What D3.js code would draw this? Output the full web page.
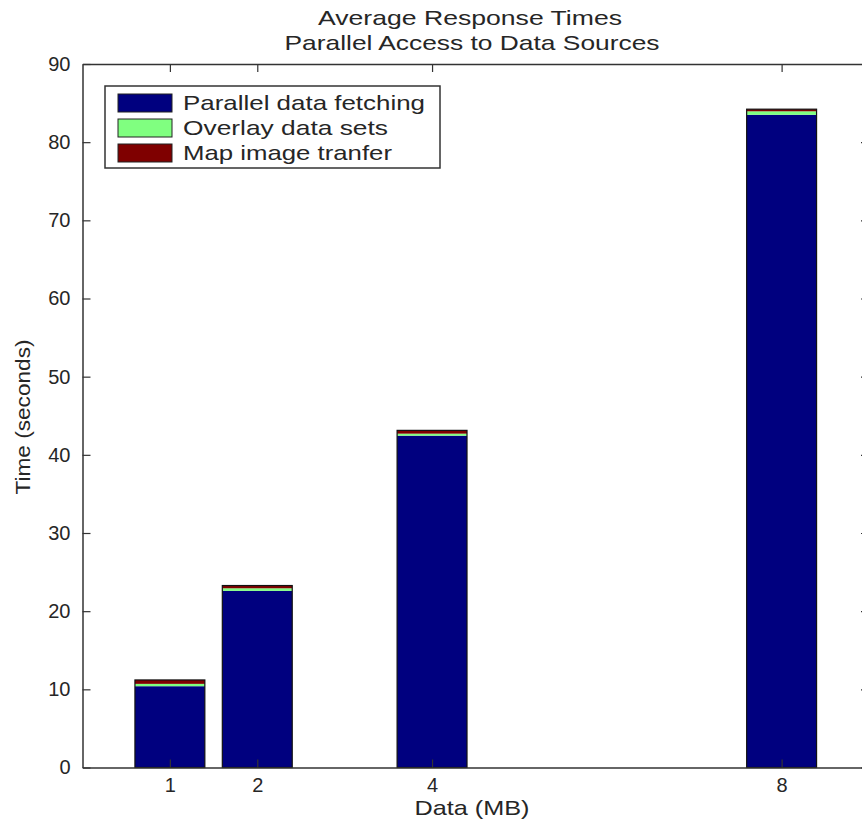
<!DOCTYPE html>
<html>
<head>
<meta charset="utf-8">
<script src="https://cdn.jsdelivr.net/npm/d3@7"></script>
<style>
  body { margin: 0; background: #fff; }
  text { font-family: "Liberation Sans", Arial, sans-serif; fill: #262626; }
</style>
</head>
<body>
<script>
'use strict';

const sizes = [1, 2, 4, 8];
const fetching = [10.4, 22.6, 42.45, 83.5];
const overlay = [0.3, 0.33, 0.26, 0.45];
const transfer = [0.5, 0.35, 0.42, 0.27];
const seriesNames = ['Parallel data fetching', 'Overlay data sets', 'Map image tranfer'];
const seriesColors = ['#00007f', '#80ff80', '#7f0000'];
const yTicks = [0, 10, 20, 30, 40, 50, 60, 70, 80, 90];

const chart = {
    width: 862,
    height: 827,
    margin: { left: 82.5, right: -7, top: 64, bottom: 59.5 },
};
chart.innerW = chart.width - chart.margin.left - chart.margin.right;
chart.innerH = chart.height - chart.margin.top - chart.margin.bottom;

const svg = d3.select('body').append('svg')
    .attr('width', chart.width)
    .attr('height', chart.height);

const g = svg.append('g')
    .attr('transform', `translate(${chart.margin.left},${chart.margin.top})`);

const x = d3.scaleLinear().domain([0, 9]).range([0, chart.innerW]);
const y = d3.scaleLinear().domain([0, 90]).range([chart.innerH, 0]);

const rows = sizes.map((s, i) => ({ size: s, a: fetching[i], b: overlay[i], c: transfer[i] }));
const stacked = d3.stack().keys(['a', 'b', 'c'])(rows);
const barW = x(0.8) - x(0);

// bars
stacked.forEach((layer, k) => {
  g.append('g').selectAll('rect')
    .data(layer)
    .enter()
    .append('rect')
    .attr('x', d => x(d.data.size) - barW / 2)
    .attr('width', barW)
    .attr('y', d => y(d[1]))
    .attr('height', d => y(d[0]) - y(d[1]))
    .attr('fill', seriesColors[k]);
});

// outline of each bar
g.append('g').selectAll('rect')
  .data(rows)
  .enter()
  .append('rect')
  .attr('x', d => x(d.size) - barW / 2)
  .attr('width', barW)
  .attr('y', d => y(d.a + d.b + d.c))
  .attr('height', d => y(0) - y(d.a + d.b + d.c))
  .attr('fill', 'none')
  .attr('stroke', '#111')
  .attr('stroke-width', 1.2);

// axes, matlab style box with inner ticks
const tickLen = 8;
const axisStyle = sel => {
  sel.select('.domain').attr('stroke', '#333').attr('stroke-width', 1.5);
  sel.selectAll('.tick line').attr('stroke', '#333').attr('stroke-width', 1.2);
  sel.selectAll('.tick text').style('font-size', '20px').attr('fill', '#262626');
};

g.append('g')
  .attr('transform', `translate(0,${chart.innerH})`)
  .call(d3.axisBottom(x).tickValues(sizes).tickSizeInner(-tickLen).tickSizeOuter(0).tickPadding(10))
  .call(axisStyle);

g.append('g')
  .call(d3.axisTop(x).tickValues(sizes).tickSizeInner(-tickLen).tickSizeOuter(0).tickFormat(''))
  .call(axisStyle);

g.append('g')
  .call(d3.axisLeft(y).tickValues(yTicks).tickSizeInner(-tickLen).tickSizeOuter(0).tickPadding(12))
  .call(axisStyle);

g.append('g')
  .attr('transform', `translate(${chart.innerW},0)`)
  .call(d3.axisRight(y).tickValues(yTicks).tickSizeInner(-tickLen).tickSizeOuter(0).tickFormat(''))
  .call(axisStyle);

// text helper: the source picture is a bit wider than plain Arial
const label = (px, py, str, len) => svg.append('text')
  .attr('x', px).attr('y', py)
  .attr('text-anchor', 'middle')
  .attr('textLength', len)
  .attr('lengthAdjust', 'spacingAndGlyphs')
  .style('font-size', '21px')
  .text(str);

label(470, 25, 'Average Response Times', 304);
label(472, 50, 'Parallel Access to Data Sources', 375);
label(472, 815, 'Data (MB)', 115);

svg.append('text')
  .attr('transform', 'translate(30,417) rotate(-90)')
  .attr('text-anchor', 'middle')
  .attr('textLength', 155)
  .attr('lengthAdjust', 'spacingAndGlyphs')
  .style('font-size', '21px')
  .text('Time (seconds)');

// legend
const legendLens = [242, 205, 209];
const legend = svg.append('g').attr('transform', 'translate(105,86)');
legend.append('rect')
  .attr('width', 335).attr('height', 82)
  .attr('fill', '#fff')
  .attr('stroke', '#333')
  .attr('stroke-width', 1.5);

const item = legend.selectAll('g.item')
  .data(seriesNames)
  .enter()
  .append('g')
  .attr('class', 'item')
  .attr('transform', (d, i) => `translate(13,${8 + i * 25})`);

item.append('rect')
  .attr('width', 54).attr('height', 18)
  .attr('fill', (d, i) => seriesColors[i])
  .attr('stroke', '#222')
  .attr('stroke-width', 1);

item.append('text')
  .attr('x', 65).attr('y', 16)
  .attr('textLength', (d, i) => legendLens[i])
  .attr('lengthAdjust', 'spacingAndGlyphs')
  .style('font-size', '21px')
  .text(d => d);
</script>
</body>
</html>
